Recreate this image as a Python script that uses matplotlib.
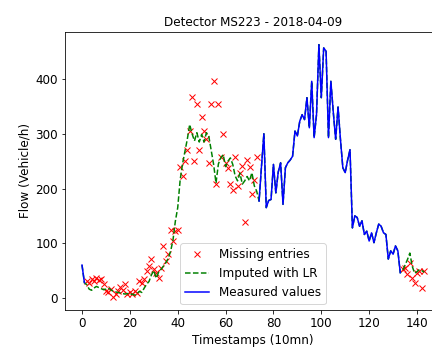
import numpy as np
import matplotlib
matplotlib.use("Agg")
import matplotlib.pyplot as plt

plt.rcParams["font.size"] = 12

# Detector MS223, 2018-04-09: 144 ten-minute timestamps of traffic flow (vehicle/h)
n_steps = 144

# Measured flow (sensor actually reported data)
measured_head_idx = [0, 1]
measured_head = [60, 28]
measured_body_start = 74
measured_body = [177, 240, 300, 165, 178, 180, 244, 192, 230, 247,
                 171, 238, 247, 252, 259, 305, 296, 323, 335, 326,
                 366, 311, 396, 293, 335, 463, 366, 457, 451, 293,
                 396, 340, 290, 349, 290, 238, 229, 252, 271, 128,
                 150, 147, 131, 141, 116, 122, 104, 119, 101, 119,
                 135, 131, 119, 116, 71, 86, 80, 95, 86, 46]

# Missing stretches: true values and linear-regression imputation
missing_early_start = 2
missing_true_early = [31, 28, 34, 30, 37, 33, 35, 25, 13, 10,
                      16, 1, 7, 12, 20, 15, 25, 7, 10, 8,
                      13, 9, 30, 28, 34, 49, 58, 71, 52, 45,
                      37, 55, 95, 68, 80, 125, 104, 122, 125, 239,
                      223, 250, 270, 306, 367, 251, 354, 270, 331, 306,
                      290, 247, 354, 396, 209, 354, 257, 300, 247, 238,
                      209, 198, 257, 205, 229, 241, 138, 253, 239, 190,
                      215, 257]
imputed_lr_early = [24, 16, 14, 18, 21, 19, 17, 15, 16, 18,
                    15, 12, 11, 10, 9, 8, 7, 8, 6, 7,
                    5, 8, 12, 10, 18, 25, 30, 42, 50, 36,
                    47, 52, 58, 64, 72, 85, 105, 140, 165, 215,
                    245, 268, 290, 317, 300, 287, 302, 285, 299, 285,
                    302, 295, 270, 244, 210, 245, 256, 262, 240, 250,
                    256, 244, 223, 214, 228, 208, 214, 222, 214, 229,
                    205, 195]

missing_late_start = 134
missing_true_late = [52, 55, 43, 64, 37, 28, 46, 49, 18, 50]
imputed_lr_late = [50, 60, 70, 82, 58, 45, 48, 52, 50, 47]

# Assemble full-length series
t = np.arange(n_steps)
measured = np.full(n_steps, np.nan)
measured[measured_head_idx] = measured_head
measured[measured_body_start:measured_body_start + len(measured_body)] = measured_body

missing_true = np.full(n_steps, np.nan)
imputed = measured.copy()
s = missing_early_start
missing_true[s:s + len(missing_true_early)] = missing_true_early
imputed[s:s + len(imputed_lr_early)] = imputed_lr_early
s = missing_late_start
missing_true[s:s + len(missing_true_late)] = missing_true_late
imputed[s:s + len(imputed_lr_late)] = imputed_lr_late

fig = plt.figure(figsize=(6.0, 347 / 72), dpi=72)
ax = fig.add_axes([64.9 / 432, 37 / 347, 376.4 / 432, 278 / 347])

ax.plot(t, missing_true, "rx", label="Missing entries")
ax.plot(t, imputed, "g--", label="Imputed with LR")
ax.plot(t, measured, "b-", label="Measured values")

ax.set_title("Detector MS223 - 2018-04-09", fontsize=12)
ax.set_xlabel("Timestamps (10mn)")
ax.set_ylabel("Flow (Vehicle/h)")
ax.set_xticks(np.arange(0, 141, 20))
ax.set_yticks(np.arange(0, 401, 100))
ax.legend(loc="lower center")

fig.savefig("out.png", dpi=72)
